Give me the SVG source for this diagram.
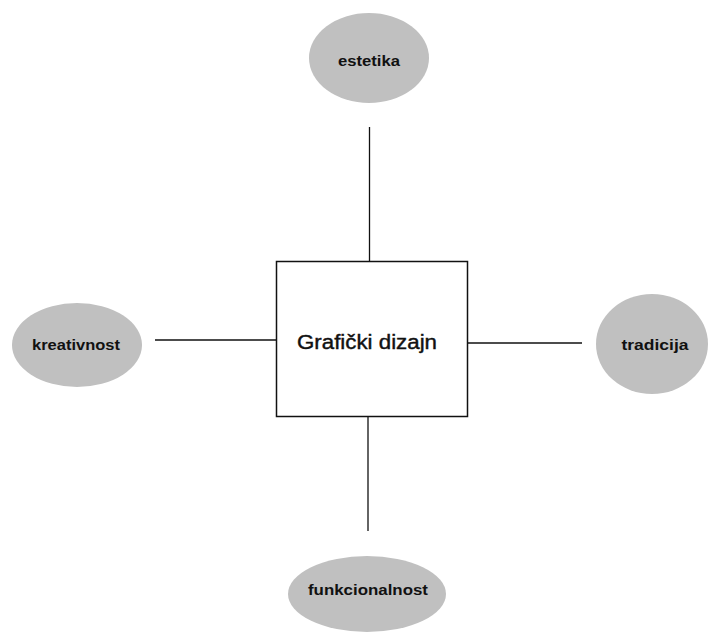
<svg xmlns="http://www.w3.org/2000/svg" width="708" height="635" viewBox="0 0 708 635">
<style>
.bg{fill:#ffffff}
.oval{fill:#c0c0c0;stroke:none}
.lbl{font-family:"Liberation Sans",Arial,sans-serif;font-weight:bold;font-size:15.5px;fill:#111;text-anchor:middle}
.main{font-family:"Liberation Sans",Arial,sans-serif;font-size:20px;fill:#111;stroke:#111;stroke-width:0.4;text-anchor:middle}
.box{fill:#fff;stroke:#111;stroke-width:1.5}
.conn line{stroke:#111;stroke-width:1.3}
</style>
<rect class="bg" width="708" height="635"/>
<g id="connectors" class="conn">
<line x1="369.5" y1="127" x2="369.5" y2="262"/>
<line x1="368" y1="417" x2="368" y2="531"/>
<line x1="155" y1="340" x2="277" y2="340"/>
<line x1="467" y1="343" x2="582" y2="343"/>
</g>
<g id="center">
<rect class="box" x="276.5" y="261.5" width="191" height="155"/>
<text class="main" x="367" y="349" textLength="140" lengthAdjust="spacingAndGlyphs">Grafički dizajn</text>
</g>
<g id="estetika">
<ellipse class="oval" cx="369" cy="58" rx="60" ry="45"/>
<text class="lbl" x="369" y="66" textLength="62" lengthAdjust="spacingAndGlyphs">estetika</text>
</g>
<g id="kreativnost">
<ellipse class="oval" cx="77" cy="345" rx="65" ry="42"/>
<text class="lbl" x="76" y="350" textLength="88" lengthAdjust="spacingAndGlyphs">kreativnost</text>
</g>
<g id="tradicija">
<ellipse class="oval" cx="652" cy="344" rx="56" ry="50"/>
<text class="lbl" x="655" y="350" textLength="67" lengthAdjust="spacingAndGlyphs">tradicija</text>
</g>
<g id="funkcionalnost">
<ellipse class="oval" cx="367" cy="594" rx="79" ry="38"/>
<text class="lbl" x="368" y="595" textLength="120" lengthAdjust="spacingAndGlyphs">funkcionalnost</text>
</g>
</svg>
